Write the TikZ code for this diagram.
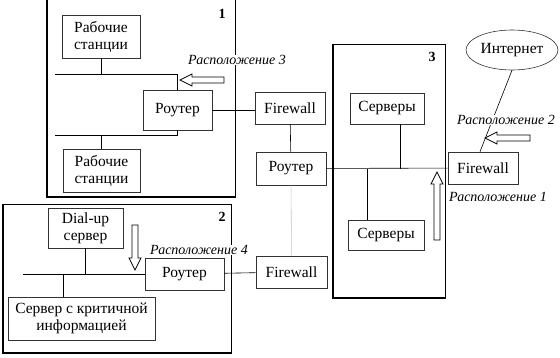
\documentclass[tikz,border=0pt]{standalone}
\usepackage{fontspec}
\setmainfont{Liberation Serif}
\usetikzlibrary{shapes.geometric}

\tikzset{
  unit/.style={draw=black!80, line width=0.6pt, fill=white, align=center,
    inner sep=0pt, font=\fontsize{15.5}{17}\selectfont},
  zone/.style={draw=black, line width=0.9pt},
  zoneedge/.style={line width=2pt},
  bus/.style={line width=0.6pt},
  place/.style={font=\fontsize{14}{16}\selectfont\itshape, fill=white, inner sep=0.5pt},
  num/.style={font=\fontsize{14}{16}\selectfont\bfseries},
  pics/harrow/.style={code={
    \draw[line width=0.8pt, fill=white] (0,0) -- (12,6) -- (12,3) -- (#1,3)
      -- (#1,-3) -- (12,-3) -- (12,-6) -- cycle;}},
}

\begin{document}
\begin{tikzpicture}[x=1pt, y=-1pt]
\useasboundingbox (0,0) rectangle (560,357);

% Zones 1, 2, 3
\draw[zone] (47,-2) rectangle (235,197);
\draw[zoneedge] (47,-2) -- (47,197) -- (235,197);
\draw[zone] (3,204) rectangle (231,353);
\draw[zoneedge] (3,204) -- (3,353) -- (231,353);
\draw[zone] (333,44) rectangle (445,298);
\draw[zoneedge] (333,44) -- (333,298) -- (445,298);
\node[num] (n1) at (222,14) {1};
\node[num] (n2) at (222,217) {2};
\node[num] (n3) at (432,57) {3};

% Zone 1
\node[unit, minimum width=78, minimum height=43] (ws1) at (101,36.5) {Рабочие\\станции};
\node[unit, minimum width=69, minimum height=40] (rt1) at (177.5,110) {Роутер};
\node[unit, minimum width=77, minimum height=43] (ws2) at (101.5,170.5) {Рабочие\\станции};

% Middle column
\node[unit, minimum width=70, minimum height=32] (fw1) at (290,108) {Firewall};
\node[unit, minimum width=70, minimum height=33] (rt0) at (291,168.5) {Роутер};
\node[unit, minimum width=71, minimum height=32] (fw2) at (291.5,272) {Firewall};

% Zone 2
\node[unit, minimum width=75, minimum height=40] (dial) at (85.5,228) {Dial-up\\сервер};
\node[unit, minimum width=79, minimum height=32] (rt2) at (184.5,274) {Роутер};
\node[unit, minimum width=147, minimum height=43] (crit) at (81.5,318.5) {Сервер с критичной\\информацией};

% Zone 3 and outside
\node[unit, minimum width=74, minimum height=31] (srv1) at (387,108.5) {Серверы};
\node[unit, minimum width=76, minimum height=30] (srv2) at (386,235) {Серверы};
\node[unit, minimum width=70, minimum height=32] (fw3) at (483,168) {Firewall};
\node[unit, ellipse, minimum width=92, minimum height=40] (inet) at (512,50) {Интернет};

% Buses and links
\coordinate (b1w) at (55,74);
\coordinate (b2w) at (55,135);
\coordinate (b3w) at (23,274);
\draw[bus] (rt1.north) |- (b1w);
\draw[bus] (ws1.south) -- (ws1.south |- b1w);
\draw[bus] (rt1.south) |- (b2w);
\draw[bus] (ws2.north) -- (ws2.north |- b2w);
\draw[bus] (rt1.east) -- (rt1.east -| fw1.west);
\draw[bus] (fw1) -- (rt0);
\draw[bus, gray!45] (rt0) -- (fw2);
\draw[bus] (rt0) -- (fw3);
\draw[bus] ([xshift=13]srv1.south) -- ([xshift=13]srv1.south |- rt0.east);
\draw[bus] ([xshift=-19]srv2.north) -- ([xshift=-19]srv2.north |- rt0.east);
\draw[bus] (inet.south) -- ([xshift=-3]fw3.north);
\draw[bus] (rt2.west) -- (b3w);
\draw[bus] (dial.south) -- (dial.south |- b3w);
\draw[bus] ([xshift=-18]crit.north) -- ([xshift=-18]crit.north |- b3w);
\draw[bus] (rt2) -- (fw2);

% Locations
\node[place] (loc3) at (237,60) {Расположение 3};
\node[place] (loc2) at (506,120) {Расположение 2};
\node[place] (loc1) at (498,197) {Расположение 1};
\node[place] (loc4) at (199,250) {Расположение 4};
\pic at (180,80) {harrow=44};
\pic at (485,138) {harrow=45};
\pic[rotate=-90] at (437,172) {harrow=68};
\pic[rotate=90] at (135,270) {harrow=45};
\end{tikzpicture}
\end{document}
